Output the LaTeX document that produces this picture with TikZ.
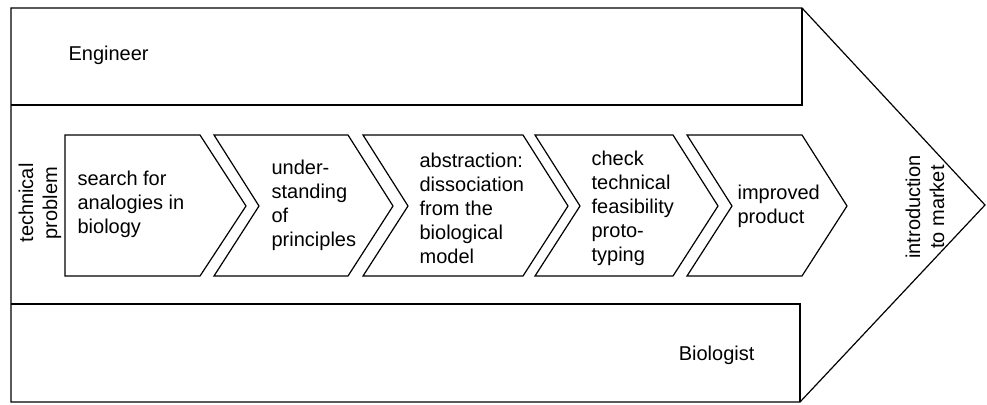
\documentclass[tikz,border=0pt]{standalone}
\usepackage{fontspec}
\setmainfont{Liberation Sans}
\begin{document}
\begin{tikzpicture}[x=1pt,y=-1pt, line width=1.2pt, line join=miter,
  lbl/.style={font=\fontsize{20}{24}\selectfont, align=left, inner sep=0pt},
  shapeline/.style={draw=black, line width=1.2pt}]
\useasboundingbox (0,0) rectangle (987,404);
% outer big arrow
\draw[shapeline] (11,8) -- (802,8) -- (985,205) -- (800,402) -- (11,402) -- cycle;
% Engineer band
\draw[shapeline] (11,105) -- (802,105) -- (802,8);
% Biologist band
\draw[shapeline] (11,304) -- (800,304) -- (800,402);
% chevrons
\draw[shapeline] (65,135) -- (200,135) -- (246,206) -- (200,276) -- (65,276) -- cycle;
\draw[shapeline] (214,135) -- (348,135) -- (393,206) -- (348,276) -- (214,276) -- (259,206) -- cycle;
\draw[shapeline] (363,135) -- (523,135) -- (568,206) -- (523,276) -- (363,276) -- (408,206) -- cycle;
\draw[shapeline] (535,135) -- (673,135) -- (718,206) -- (673,276) -- (535,276) -- (580,206) -- cycle;
\draw[shapeline] (687,135) -- (802,135) -- (847,206) -- (802,276) -- (687,276) -- (732,206) -- cycle;
% texts
\node[lbl, anchor=west] (eng) at (68,55) {Engineer};
\node[lbl, anchor=east] (bio) at (755,355) {Biologist};
\node[lbl, align=center, rotate=90] (tp) at (40,203) {technical\\problem};
\node[lbl, align=center, rotate=90] (itm) at (925,207) {introduction\\to market};
\node[lbl, anchor=west] (c1) at (77,204) {search for\\analogies in\\biology};
\node[lbl, anchor=west] (c2) at (271,205) {under-\\standing\\of\\principles};
\node[lbl, anchor=west] (c3) at (419,208) {abstraction:\\dissociation\\from the\\biological\\model};
\node[lbl, anchor=west] (c4) at (591,208) {check\\technical\\feasibility\\proto-\\typing};
\node[lbl, anchor=west] (c5) at (737,206) {improved\\product};
\end{tikzpicture}
\end{document}
